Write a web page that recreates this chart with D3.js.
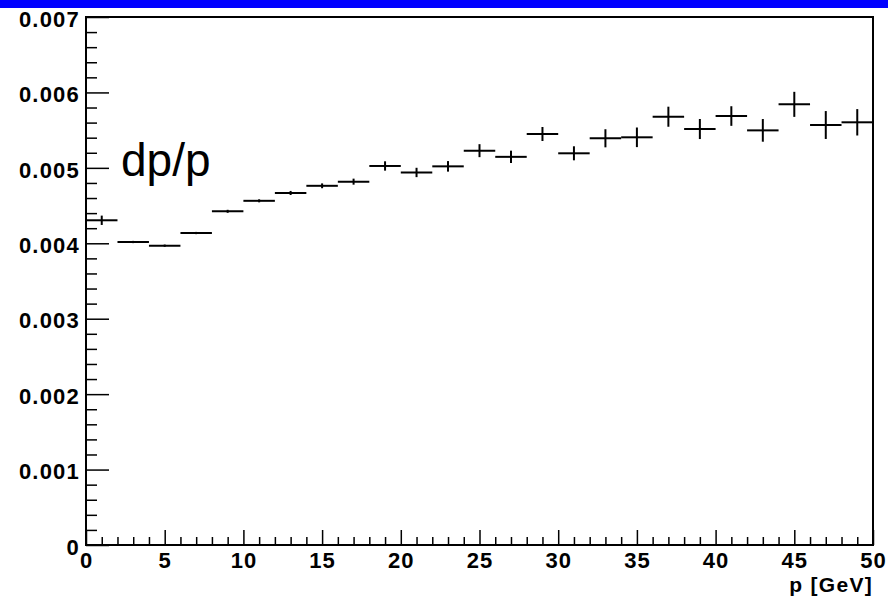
<!DOCTYPE html>
<html>
<head>
<meta charset="utf-8">
<script src="https://cdn.jsdelivr.net/npm/d3@7"></script>
<style>
  html, body { margin: 0; padding: 0; background: #fff; }
  svg { display: block; }
</style>
</head>
<body>
<script>
// ---- data ----
const binCenters = [1,3,5,7,9,11,13,15,17,19,21,23,25,27,29,31,33,35,37,39,41,43,45,47,49];
const binHalfWidth = 1;
const dpOverP = [0.004305,0.004017,0.003968,0.004136,0.004424,0.004563,0.004667,0.004762,0.004817,0.005025,
                 0.004939,0.005020,0.005228,0.005146,0.005449,0.005193,0.005392,0.005405,0.005678,0.005515,
                 0.005687,0.005497,0.005842,0.005568,0.005604];
const dpErrors = [0.000062,0.000015,0.000015,0.000015,0.000020,0.000020,0.000027,0.000032,0.000040,0.000062,
                  0.000062,0.000070,0.000086,0.000082,0.000093,0.000093,0.000120,0.000130,0.000133,0.000133,
                  0.000130,0.000150,0.000166,0.000185,0.000175];
const xMajorTicks = [0,5,10,15,20,25,30,35,40,45,50];
const xMinorTicks = d3.range(0, 51, 1).filter(v => v % 5 !== 0);
const yMajorTicks = [0,0.001,0.002,0.003,0.004,0.005,0.006,0.007];
const yMinorTicks = d3.range(0, 35).map(i => i * 0.0002).filter((v, i) => i % 5 !== 0);
const xTitle = "p [GeV]";
const plotLabel = "dp/p";

// ---- layout ----
const W = 888, H = 597;
const mLeft = 86, mRight = 873, mTop = 17, mBottom = 545;
const fontFam = "'Liberation Sans', Arial, Helvetica, sans-serif";

const svg = d3.select("body").append("svg").attr("width", W).attr("height", H);
svg.append("rect").attr("x", 0).attr("y", 0).attr("width", W).attr("height", H).attr("fill", "#fff");
svg.append("rect").attr("x", 0).attr("y", 0).attr("width", W).attr("height", 8).attr("fill", "#0000ff");

const x = d3.scaleLinear().domain([0, 50]).range([mLeft, mRight]);
const y = d3.scaleLinear().domain([0, 0.007]).range([mBottom, mTop]);

// minor ticks
svg.append("g").attr("transform", `translate(${mLeft},0)`)
  .call(d3.axisLeft(y).tickValues(yMinorTicks).tickSize(-11).tickFormat(""))
  .call(g => g.select(".domain").remove())
  .call(g => g.selectAll("line").attr("stroke", "#000").attr("stroke-width", 1.5));
svg.append("g").attr("transform", `translate(0,${mBottom})`)
  .call(d3.axisBottom(x).tickValues(xMinorTicks).tickSize(-8).tickFormat(""))
  .call(g => g.select(".domain").remove())
  .call(g => g.selectAll("line").attr("stroke", "#000").attr("stroke-width", 1.5));

// major ticks + labels
svg.append("g").attr("transform", `translate(${mLeft},0)`)
  .call(d3.axisLeft(y).tickValues(yMajorTicks).tickSize(-23).tickPadding(6)
        .tickFormat(v => v === 0 ? "0" : d3.format(".3f")(v)))
  .call(g => g.select(".domain").remove())
  .call(g => g.selectAll("line").attr("stroke", "#000").attr("stroke-width", 1.5))
  .call(g => g.selectAll("text").attr("fill", "#000").attr("font-family", fontFam)
        .attr("font-weight", "bold").attr("font-size", 22).attr("letter-spacing", 1.2)
        .attr("dy", "0.42em"));
svg.append("g").attr("transform", `translate(0,${mBottom})`)
  .call(d3.axisBottom(x).tickValues(xMajorTicks).tickSize(-15).tickPadding(7))
  .call(g => g.select(".domain").remove())
  .call(g => g.selectAll("line").attr("stroke", "#000").attr("stroke-width", 1.5))
  .call(g => g.selectAll("text").attr("fill", "#000").attr("font-family", fontFam)
        .attr("font-weight", "bold").attr("font-size", 22).attr("letter-spacing", 1)
        .attr("dy", "0.71em"));

// frame
svg.append("rect").attr("x", mLeft).attr("y", mTop).attr("width", mRight - mLeft).attr("height", mBottom - mTop)
  .attr("fill", "none").attr("stroke", "#000").attr("stroke-width", 2);

// data markers
const pts = svg.append("g");
binCenters.forEach((c, i) => {
  const v = dpOverP[i], e = dpErrors[i];
  pts.append("line").attr("x1", x(c - binHalfWidth)).attr("x2", x(c + binHalfWidth))
    .attr("y1", y(v)).attr("y2", y(v)).attr("stroke", "#000").attr("stroke-width", 2);
  pts.append("line").attr("x1", x(c)).attr("x2", x(c))
    .attr("y1", y(v - e)).attr("y2", y(v + e)).attr("stroke", "#000").attr("stroke-width", 2);
});

// axis title
svg.append("text").attr("x", mRight).attr("y", 592).attr("text-anchor", "end")
  .attr("font-family", fontFam).attr("font-weight", "bold").attr("font-size", 21)
  .attr("letter-spacing", 1.3).attr("fill", "#000").text(xTitle);

// label
svg.append("text").attr("x", 121).attr("y", 176)
  .attr("font-family", fontFam).attr("font-size", 46).attr("fill", "#000").text(plotLabel);
</script>
</body>
</html>
